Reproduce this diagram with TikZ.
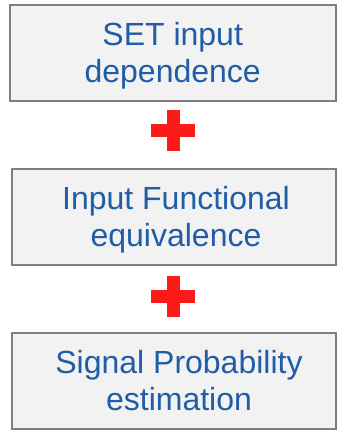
\documentclass[tikz,border=0pt]{standalone}
\usepackage{fontspec}
\setmainfont{Liberation Sans}
\definecolor{stageblue}{HTML}{1F5DA6}
\definecolor{stagefill}{HTML}{F2F2F2}
\definecolor{stageline}{HTML}{7F7F7F}
\definecolor{plusred}{HTML}{FF1A1A}
% two centred lines with a fixed height and depth
\newcommand\twolines[2]{\rule{0pt}{24pt}#1\\#2\rule[-7pt]{0pt}{7pt}}

\begin{document}
\begin{tikzpicture}[x=1pt,y=-1pt,
  stage/.style={draw=stageline, line width=2pt, fill=stagefill,
    minimum width=324pt, minimum height=96pt},
  stagetext/.style={text=stageblue, align=center, inner sep=0pt,
    font=\fontsize{32}{37}\selectfont},
  plusbar/.style={fill=plusred, inner sep=0pt}]
  \useasboundingbox (0,0) rectangle (337,432);
  % the three stages
  \node[stage, minimum width=326pt] (set) at (172.7,52.5) {};
  \node[stage] (func) at (174,216.5) {};
  \node[stage] (prob) at (174,380.5) {};
  \node[stagetext] (setT) at ([yshift=-3pt]set) {\twolines{SET input}{dependence}};
  \node[stagetext] (funcT) at ([xshift=2pt,yshift=-3pt]func) {\twolines{Input Functional}{equivalence}};
  \node[stagetext] (probT) at ([xshift=5pt,yshift=-3pt]prob) {\twolines{Signal Probability}{estimation}};
  % red plus signs between them
  \coordinate (plusA) at (173,130.5);
  \coordinate (plusB) at (173,296);
  \foreach \p in {plusA,plusB} {
    \node[plusbar, minimum width=44pt, minimum height=13pt] at (\p) {};
    \node[plusbar, minimum width=13pt, minimum height=41pt] at (\p) {};
  }
\end{tikzpicture}
\end{document}
